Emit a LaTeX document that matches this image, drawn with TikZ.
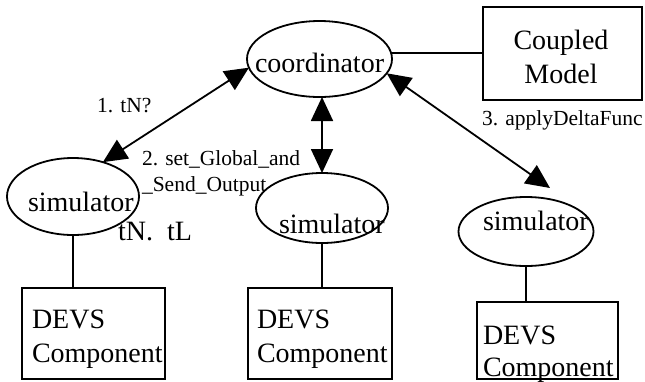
\documentclass[tikz,border=0pt]{standalone}
\usepackage{fontspec}
\setmainfont{Liberation Serif}
\usetikzlibrary{shapes.geometric,arrows.meta,calc}
\begin{document}
\begin{tikzpicture}[x=1pt,y=-1pt,
  every node/.style={inner sep=0pt, outer sep=0pt},
  ell/.style={draw, ellipse, line width=1.8pt},
  box/.style={draw, rectangle, line width=1.8pt},
  big/.style={font=\fontsize{28}{34}\selectfont},
  small/.style={font=\fontsize{21.5}{26}\selectfont},
  conn/.style={line width=1.8pt},
  dbl/.style={line width=1.8pt, {Triangle[length=24pt,width=22pt]}-{Triangle[length=24pt,width=22pt]}}
]
\useasboundingbox (0,0) rectangle (645,381);

% ellipses
\node[ell, minimum width=145pt, minimum height=76pt] (coord) at (319.5,59) {};
\node[ell, minimum width=132pt, minimum height=77pt] (simL) at (73,196.5) {};
\node[ell, minimum width=132pt, minimum height=70pt] (simM) at (322,208) {};
\node[ell, minimum width=135pt, minimum height=69pt] (simR) at (526,231.5) {};

% boxes
\node[box, minimum width=159pt, minimum height=93pt] (cm) at (562.5,53.5) {};
\node[box, minimum width=143pt, minimum height=91pt] (devsL) at (93.5,333.5) {};
\node[box, minimum width=144pt, minimum height=91pt] (devsM) at (320,333.5) {};
\node[box, minimum width=141pt, minimum height=77pt] (devsR) at (547.5,340.5) {};

% texts
\node[big, anchor=base west] (tcoord) at (255,72) {coordinator};
\node[big, anchor=base] (tcm1) at (561,49) {Coupled};
\node[big, anchor=base] (tcm2) at (561,83) {Model};
\node[big, anchor=base west] (tsimL) at (28,211) {simulator};
\node[big, anchor=base west] (tsimM) at (279,233) {simulator};
\node[big, anchor=base west] (tsimR) at (483,230) {simulator};
\node[big, anchor=base west] (ttime) at (118,240) {tN.\ \ tL};
\node[big, anchor=base west] (tdL1) at (32,328) {DEVS};
\node[big, anchor=base west] (tdL2) at (32,362) {Component};
\node[big, anchor=base west] (tdM1) at (257,328) {DEVS};
\node[big, anchor=base west] (tdM2) at (257,362) {Component};
\node[big, anchor=base west] (tdR1) at (483,344) {DEVS};
\node[big, anchor=base west] (tdR2) at (483,376) {Component};

% labels
\node[small, anchor=base west] (l1) at (97,112) {1. tN?};
\node[small, anchor=base west] (l2a) at (142,165) {2. set\_Global\_and};
\node[small, anchor=base west] (l2b) at (142,191) {\_Send\_Output};
\node[small, anchor=base west] (l3) at (482,125) {3. applyDeltaFunc};

% connectors
\coordinate (t3) at (550,188);
\draw[conn] (coord.5.6) -- (coord.5.6 -| cm.west);
\draw[dbl] (coord.187.6) -- (simL.49);
\draw[dbl] (simM.north |- coord.south) -- (simM.north);
\draw[dbl] (coord.-12.6) -- (t3);
\draw[conn] (simL.south) -- (simL.south |- devsL.north);
\draw[conn] (simM.south) -- (simM.south |- devsM.north);
\draw[conn] (simR.south) -- (simR.south |- devsR.north);
\end{tikzpicture}
\end{document}
